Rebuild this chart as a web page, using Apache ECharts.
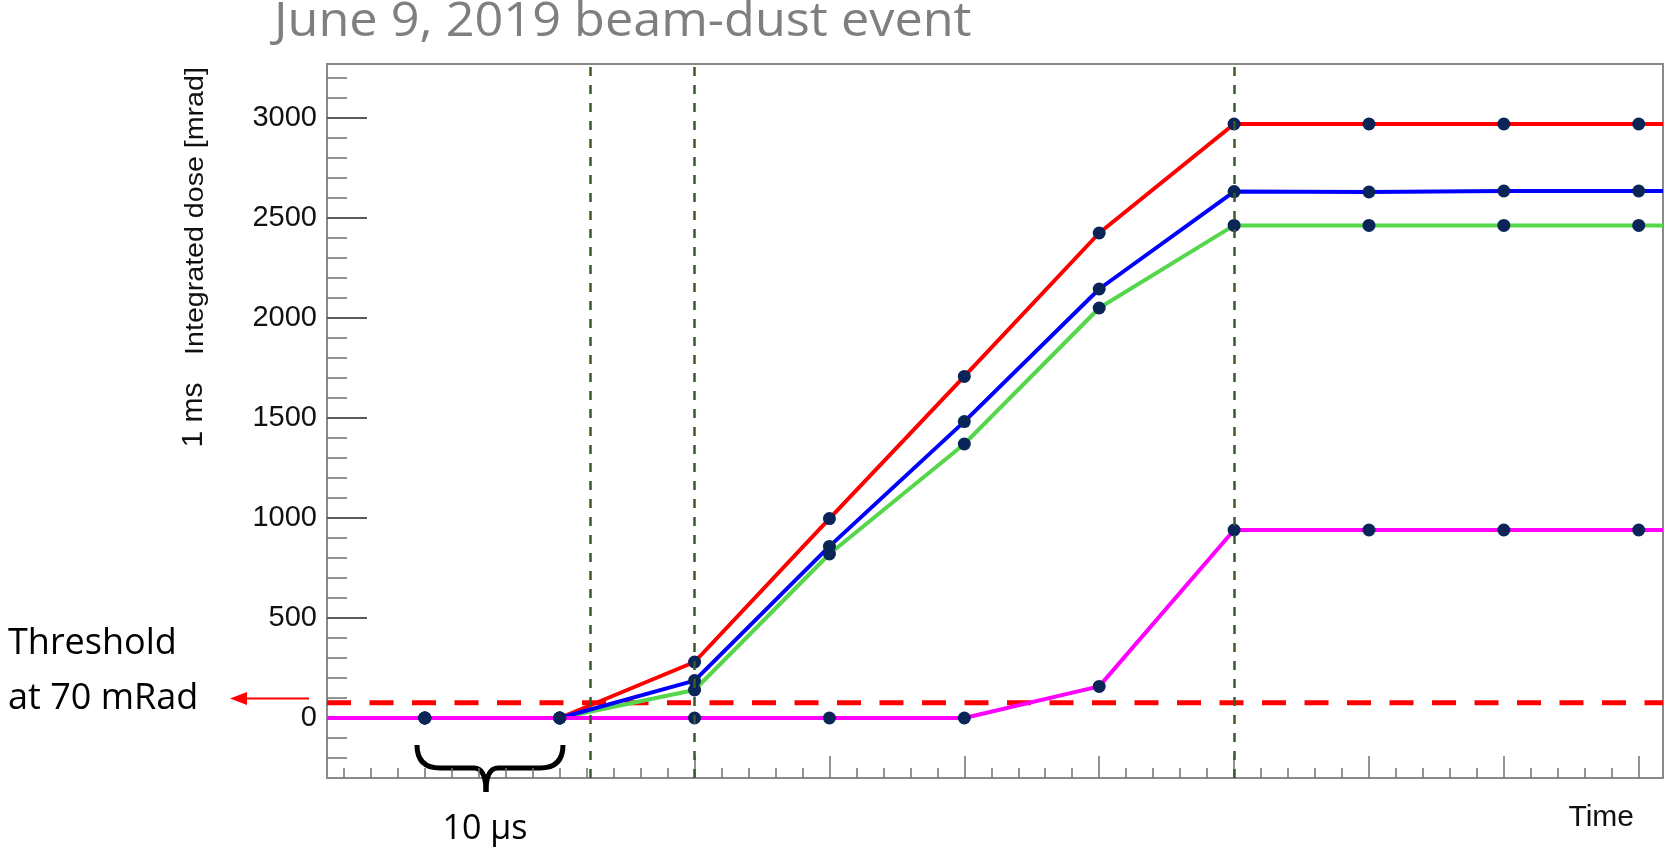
<!DOCTYPE html>
<html>
<head>
<meta charset="utf-8">
<script src="https://cdn.jsdelivr.net/npm/echarts@6/dist/echarts.min.js"></script>
<style>
html, body { margin: 0; padding: 0; background: #fff; }
#chart { width: 1669px; height: 850px; }
</style>
</head>
<body>
<div id="chart"></div>
<script>
// readings every 10 us
var times = [0, 10, 20, 30, 40, 50, 60, 70, 80, 90];
var doseRed = [0, 0, 280, 997, 1708, 2425, 2970, 2970, 2970, 2970];
var doseBlue = [0, 0, 187, 858, 1482, 2145, 2632, 2630, 2635, 2635];
var doseGreen = [0, 0, 140, 820, 1370, 2050, 2463, 2463, 2463, 2463];
var doseMagenta = [0, 0, 0, 0, 0, 158, 940, 940, 940, 940];
var threshold = 76;
var markerTimes = [12.3, 20, 60];
var yLabelTicks = [0, 500, 1000, 1500, 2000, 2500, 3000];
var xMajorTicks = [20, 30, 40, 50, 60, 70, 80, 90];

var xMin = -7.25, xMax = 91.8;
var yMin = -300, yMax = 3270;

var yMinorTicks = [];
for (var v = -200; v <= 3200; v += 100) {
  if (v % 500 !== 0) yMinorTicks.push(v);
}
var xMinorTicks = [];
for (var t = -6; t <= 90; t += 2) {
  if (t < 20 || t % 10 !== 0) xMinorTicks.push(t);
}

var dotColor = '#0b2558';
var axisGray = '#707070';

function lineData(vals) {
  // line runs on to the frame edges
  var d = [[xMin, vals[0]]];
  times.forEach(function (x, i) { d.push([x, vals[i]]); });
  d.push([xMax, vals[vals.length - 1]]);
  return d;
}
function dotData(vals) {
  return times.map(function (x, i) { return [x, vals[i]]; });
}
function doseLine(vals, color) {
  return {
    type: 'line', data: lineData(vals), symbol: 'none', z: 3, silent: true,
    lineStyle: { color: color, width: 4 }
  };
}
function doseDots(vals) {
  return {
    type: 'scatter', data: dotData(vals), symbol: 'circle', symbolSize: 13, z: 4, silent: true,
    itemStyle: { color: dotColor, opacity: 1 }
  };
}

// curly brace under the 10 us gap
var braceStyle = { stroke: '#000', lineWidth: 5, fill: null };
function braceCurve(x1, y1, cx, cy, x2, y2) {
  return { type: 'bezierCurve', shape: { x1: x1, y1: y1, cpx1: cx, cpy1: cy, x2: x2, y2: y2 }, style: braceStyle };
}
function braceLine(x1, x2, y) {
  return { type: 'line', shape: { x1: x1, y1: y, x2: x2, y2: y }, style: braceStyle };
}

var chart = echarts.init(document.getElementById('chart'));

var option = {
  animation: false,
  backgroundColor: '#fff',
  grid: {
    left: 327, top: 64, right: 6, bottom: 72,
    show: true, borderColor: '#8a8a8a', borderWidth: 2
  },
  xAxis: [{
    type: 'value', min: xMin, max: xMax, position: 'bottom',
    axisLine: { show: false, onZero: false }, splitLine: { show: false }, axisLabel: { show: false },
    axisTick: { inside: true, length: 22, customValues: xMajorTicks, lineStyle: { color: axisGray, width: 1.5 } }
  }, {
    type: 'value', min: xMin, max: xMax, position: 'bottom',
    axisLine: { show: false, onZero: false }, splitLine: { show: false }, axisLabel: { show: false },
    axisTick: { inside: true, length: 10, customValues: xMinorTicks, lineStyle: { color: axisGray, width: 1.5 } }
  }],
  yAxis: [{
    type: 'value', min: yMin, max: yMax, position: 'left',
    axisLine: { show: false, onZero: false }, splitLine: { show: false },
    axisTick: { inside: true, length: 40, customValues: yLabelTicks.slice(), lineStyle: { color: '#5a5a5a', width: 2 } },
    axisLabel: {
      customValues: yLabelTicks.slice(), margin: 10, color: '#111',
      fontFamily: 'Liberation Sans', fontSize: 29,
      formatter: function (val) { return String(val); }
    }
  }, {
    type: 'value', min: yMin, max: yMax, position: 'left',
    axisLine: { show: false, onZero: false }, splitLine: { show: false }, axisLabel: { show: false },
    axisTick: { inside: true, length: 20, customValues: yMinorTicks, lineStyle: { color: axisGray, width: 1.5 } }
  }],
  series: [
    {
      type: 'line', data: [[xMin, threshold], [xMax, threshold]], symbol: 'none', z: 2, silent: true,
      lineStyle: { color: '#ff0000', width: 5, type: [24, 18.5] }
    },
    doseLine(doseGreen, '#55d64b'),
    doseLine(doseRed, '#ff0000'),
    doseLine(doseBlue, '#0000ff'),
    doseLine(doseMagenta, '#ff00ff'),
    doseDots(doseGreen),
    doseDots(doseRed),
    doseDots(doseBlue),
    doseDots(doseMagenta),
    {
      type: 'line', data: [], z: 6, silent: true,
      markLine: {
        silent: true, symbol: ['none', 'none'], label: { show: false },
        lineStyle: { color: '#3b5a2a', width: 2.5, type: [9, 9] },
        data: markerTimes.map(function (x) { return { xAxis: x }; })
      }
    }
  ],
  graphic: [
    {
      type: 'text', x: 274, y: -2, scaleX: 1.05,
      style: { text: 'June 9, 2019 beam-dust event', fill: '#7f7f7f', font: '48px "Open Sans"', verticalAlign: 'top' }
    },
    {
      type: 'text', x: 194, y: 415, rotation: Math.PI / 2,
      style: { text: '1 ms', fill: '#111', font: '30px "Liberation Sans"', align: 'center', verticalAlign: 'middle' }
    },
    {
      type: 'text', x: 196, y: 211, rotation: Math.PI / 2, scaleX: 1.1,
      style: { text: 'Integrated dose [mrad]', fill: '#111', font: '26px "Liberation Sans"', align: 'center', verticalAlign: 'middle' }
    },
    {
      type: 'text', x: 1634, y: 818,
      style: { text: 'Time', fill: '#111', font: '30px "Liberation Sans"', align: 'right', verticalAlign: 'middle' }
    },
    {
      type: 'text', x: 8, y: 644,
      style: { text: 'Threshold', fill: '#000', font: '36px "Open Sans"', align: 'left', verticalAlign: 'middle' }
    },
    {
      type: 'text', x: 8, y: 699,
      style: { text: 'at 70 mRad', fill: '#000', font: '36px "Open Sans"', align: 'left', verticalAlign: 'middle' }
    },
    {
      type: 'line', shape: { x1: 309, y1: 698.5, x2: 244, y2: 698.5 },
      style: { stroke: '#ff0000', lineWidth: 2 }
    },
    {
      type: 'polygon', shape: { points: [[230, 698.5], [247, 692], [247, 705]] },
      style: { fill: '#ff0000' }
    },
    braceCurve(417, 745, 417, 768, 440, 768),
    braceLine(440, 474, 768),
    braceCurve(474, 768, 486, 768, 486, 792),
    braceCurve(486, 792, 486, 768, 498, 768),
    braceLine(498, 540, 768),
    braceCurve(540, 768, 563, 768, 563, 745),
    {
      type: 'text', x: 485, y: 829,
      style: { text: '10 \u00b5s', fill: '#000', font: '34px "Open Sans"', align: 'center', verticalAlign: 'middle' }
    }
  ]
};

chart.setOption(option);
</script>
</body>
</html>
